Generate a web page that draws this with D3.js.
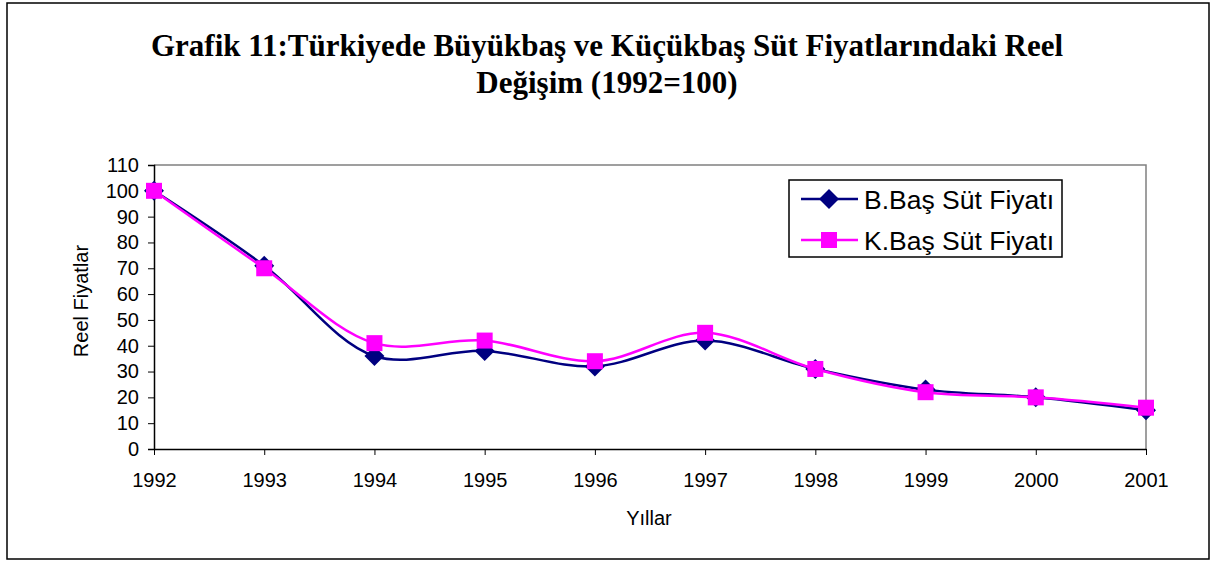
<!DOCTYPE html>
<html>
<head>
<meta charset="utf-8">
<script src="https://cdn.jsdelivr.net/npm/d3@7"></script>
<style>
  body { margin: 0; background: #fff; }
  svg { display: block; }
</style>
</head>
<body>
<script>
// Daten
const years = ["1992", "1993", "1994", "1995", "1996", "1997", "1998", "1999", "2000", "2001"];
const bBas = [100, 71, 36, 38, 32, 42, 31, 23, 20, 15];
const kBas = [100, 70, 41, 42, 34, 45, 31, 22, 20, 16];
const yTicks = [0, 10, 20, 30, 40, 50, 60, 70, 80, 90, 100, 110];
const titleLines = ["Grafik 11:Türkiyede Büyükbaş ve Küçükbaş Süt Fiyatlarındaki Reel", "Değişim (1992=100)"];

const width = 1212;
const height = 561;

const svg = d3.select("body").append("svg")
    .attr("width", width)
    .attr("height", height);

// äußerer Rahmen
svg.append("rect")
    .attr("x", 7).attr("y", 3)
    .attr("width", 1202).attr("height", 556)
    .attr("fill", "#fff")
    .attr("stroke", "#000")
    .attr("stroke-width", 1.5);

// Titel
svg.append("g")
    .selectAll("text")
    .data(titleLines)
    .join("text")
    .attr("x", 607)
    .attr("y", (d, i) => 56 + i * 37)
    .attr("text-anchor", "middle")
    .attr("font-family", "'Liberation Serif', 'Times New Roman', serif")
    .attr("font-weight", "bold")
    .attr("font-size", 31)
    .text(d => d);

// Skalen
const x = d3.scalePoint().domain(years).range([154, 1146]);
const y = d3.scaleLinear().domain([0, 110]).range([449, 165]);

// Plotbereich: oben und rechts grau
svg.append("path")
    .attr("d", `M154,165H1146V449`)
    .attr("fill", "none")
    .attr("stroke", "#808080")
    .attr("stroke-width", 1.5);

const font = "'Liberation Sans', Arial, sans-serif";

// y-Achse
const yAxis = svg.append("g")
    .attr("transform", "translate(154,0)")
    .call(d3.axisLeft(y).tickValues(yTicks).tickSize(6).tickPadding(9));
yAxis.select(".domain").attr("stroke", "#000").attr("stroke-width", 1.5);
yAxis.selectAll("text").attr("font-family", font).attr("font-size", 20).attr("fill", "#000");

// x-Achse
const xAxis = svg.append("g")
    .attr("transform", "translate(0,449)")
    .call(d3.axisBottom(x).tickSize(6).tickPadding(18).tickSizeOuter(0));
xAxis.select(".domain").attr("stroke", "#000").attr("stroke-width", 1.5);
xAxis.selectAll("text").attr("font-family", font).attr("font-size", 20).attr("fill", "#000");

// Achsentitel
svg.append("text")
    .attr("x", 649).attr("y", 525)
    .attr("text-anchor", "middle")
    .attr("font-family", font).attr("font-size", 20)
    .text("Yıllar");

svg.append("text")
    .attr("transform", "translate(88,301) rotate(-90)")
    .attr("text-anchor", "middle")
    .attr("font-family", font).attr("font-size", 20)
    .text("Reel Fiyatlar");

// Raute als gedrehtes Quadrat
const diamond = {
  draw(context, size) {
    const r = Math.sqrt(size / 2);
    context.moveTo(0, -r);
    context.lineTo(r, 0);
    context.lineTo(0, r);
    context.lineTo(-r, 0);
    context.closePath();
  }
};

// Linien
const series = [
  { name: "B.Baş Süt Fiyatı", values: bBas, color: "#000080", symbol: diamond, size: 200 },
  { name: "K.Baş Süt Fiyatı", values: kBas, color: "#FF00FF", symbol: d3.symbolSquare, size: 256 }
];

const line = d3.line()
    .x((d, i) => x(years[i]))
    .y(d => y(d))
    .curve(d3.curveCatmullRom.alpha(0.5));

series.forEach(s => {
  svg.append("path")
      .datum(s.values)
      .attr("fill", "none")
      .attr("stroke", s.color)
      .attr("stroke-width", 2.5)
      .attr("d", line);

  svg.append("g")
      .selectAll("path")
      .data(s.values)
      .join("path")
      .attr("transform", (d, i) => `translate(${x(years[i])},${y(d)})`)
      .attr("d", d3.symbol(s.symbol, s.size))
      .attr("fill", s.color);
});

// Legende
const legend = svg.append("g");
legend.append("rect")
    .attr("x", 789).attr("y", 180)
    .attr("width", 273).attr("height", 77)
    .attr("fill", "#fff")
    .attr("stroke", "#000")
    .attr("stroke-width", 1.5);

const item = legend.selectAll("g")
    .data(series)
    .join("g")
    .attr("transform", (d, i) => `translate(0,${199 + i * 41})`);

item.append("line")
    .attr("x1", 801).attr("x2", 858)
    .attr("stroke", d => d.color)
    .attr("stroke-width", 2.5);

item.append("path")
    .attr("transform", "translate(829,0)")
    .attr("d", d => d3.symbol(d.symbol, d.size)())
    .attr("fill", d => d.color);

item.append("text")
    .attr("x", 864).attr("y", 10)
    .attr("font-family", font).attr("font-size", 26.5)
    .text(d => d.name);
</script>
</body>
</html>
